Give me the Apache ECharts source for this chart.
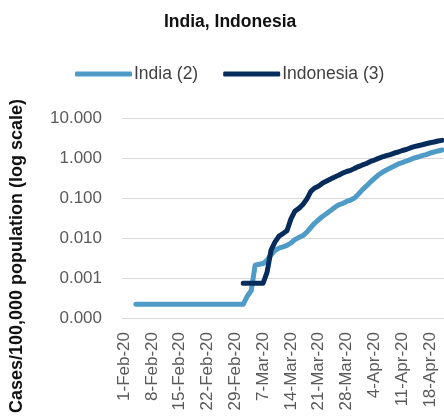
<!DOCTYPE html>
<html>
<head>
<meta charset="utf-8">
<script src="https://cdn.jsdelivr.net/npm/echarts@6/dist/echarts.min.js"></script>
<style>
  html, body { margin: 0; padding: 0; background: #fff; }
  #chart { width: 444px; height: 420px; }
</style>
</head>
<body>
<div id="chart"></div>
<script>
// Daily dates, 1 Feb – 21 Apr 2020
var dates = [
  '1-Feb-20','2-Feb-20','3-Feb-20','4-Feb-20','5-Feb-20','6-Feb-20','7-Feb-20',
  '8-Feb-20','9-Feb-20','10-Feb-20','11-Feb-20','12-Feb-20','13-Feb-20','14-Feb-20',
  '15-Feb-20','16-Feb-20','17-Feb-20','18-Feb-20','19-Feb-20','20-Feb-20','21-Feb-20',
  '22-Feb-20','23-Feb-20','24-Feb-20','25-Feb-20','26-Feb-20','27-Feb-20','28-Feb-20',
  '29-Feb-20','1-Mar-20','2-Mar-20','3-Mar-20','4-Mar-20','5-Mar-20','6-Mar-20',
  '7-Mar-20','8-Mar-20','9-Mar-20','10-Mar-20','11-Mar-20','12-Mar-20','13-Mar-20',
  '14-Mar-20','15-Mar-20','16-Mar-20','17-Mar-20','18-Mar-20','19-Mar-20','20-Mar-20',
  '21-Mar-20','22-Mar-20','23-Mar-20','24-Mar-20','25-Mar-20','26-Mar-20','27-Mar-20',
  '28-Mar-20','29-Mar-20','30-Mar-20','31-Mar-20','1-Apr-20','2-Apr-20','3-Apr-20',
  '4-Apr-20','5-Apr-20','6-Apr-20','7-Apr-20','8-Apr-20','9-Apr-20','10-Apr-20',
  '11-Apr-20','12-Apr-20','13-Apr-20','14-Apr-20','15-Apr-20','16-Apr-20','17-Apr-20',
  '18-Apr-20','19-Apr-20','20-Apr-20','21-Apr-20'
];

// Cumulative cases per 100,000 population
var india = [
  null, null, null,
  0.00022, 0.00022, 0.00022, 0.00022, 0.00022, 0.00022, 0.00022,
  0.00022, 0.00022, 0.00022, 0.00022, 0.00022, 0.00022, 0.00022,
  0.00022, 0.00022, 0.00022, 0.00022, 0.00022, 0.00022, 0.00022,
  0.00022, 0.00022, 0.00022, 0.00022, 0.00022, 0.00022,
  0.00022, 0.00035, 0.00048, 0.0021, 0.0022, 0.0023, 0.0028,
  0.0038, 0.0049, 0.0056, 0.0060, 0.0065, 0.0075, 0.0091,
  0.0103, 0.0115, 0.0141, 0.0183, 0.0237, 0.029, 0.035,
  0.041, 0.049, 0.058, 0.067, 0.073, 0.082, 0.089,
  0.100, 0.126, 0.162, 0.20, 0.25, 0.31, 0.376,
  0.44, 0.50, 0.56, 0.63, 0.71, 0.77, 0.84,
  0.91, 1.00, 1.06, 1.15, 1.22, 1.33, 1.41,
  1.50, 1.58
];

var indonesia = [
  null, null, null, null, null, null, null,
  null, null, null, null, null, null, null,
  null, null, null, null, null, null, null,
  null, null, null, null, null, null, null,
  null, null,
  0.00074, 0.00074, 0.00074, 0.00074, 0.00074, 0.00074, 0.0014,
  0.0050, 0.0080, 0.0112, 0.0129, 0.0152, 0.030, 0.047,
  0.055, 0.069, 0.094, 0.146, 0.178, 0.20, 0.237,
  0.266, 0.30, 0.335, 0.37, 0.42, 0.46, 0.49,
  0.55, 0.61, 0.67, 0.73, 0.82, 0.89, 0.98,
  1.06, 1.14, 1.22, 1.33, 1.41, 1.54, 1.63,
  1.78, 1.92, 2.03, 2.14, 2.27, 2.40, 2.51,
  2.66, 2.76
];

var seriesNames = ['India (2)', 'Indonesia (3)'];
var seriesColors = ['#4f9bc7', '#062c5c'];

var FONT = '"Liberation Sans", Arial, sans-serif';

var chart = echarts.init(document.getElementById('chart'), null, { renderer: 'canvas' });

chart.setOption({
  animation: false,
  backgroundColor: '#ffffff',
  title: {
    text: 'India, Indonesia',
    left: 159,
    top: 8,
    textStyle: { fontFamily: FONT, fontSize: 17.5, fontWeight: 'bold', color: '#111111' }
  },
  legend: {
    data: seriesNames,
    left: 70,
    top: 60,
    icon: 'roundRect',
    itemWidth: 57,
    itemHeight: 5,
    itemGap: 25,
    textStyle: { fontFamily: FONT, fontSize: 17.5, color: '#404040', padding: [0, 0, 0, -3] }
  },
  graphic: [{
    type: 'text',
    x: 17,
    y: 256,
    rotation: Math.PI / 2,
    style: {
      text: 'Cases/100,000 population (log scale)',
      fontFamily: FONT,
      fontSize: 18,
      fontWeight: 'bold',
      fill: '#111111',
      align: 'center',
      verticalAlign: 'middle'
    }
  }],
  grid: { left: 122, right: 0, top: 118, bottom: 102, containLabel: false },
  xAxis: {
    type: 'category',
    data: dates,
    boundaryGap: true,
    axisLine: { show: true, lineStyle: { color: '#d9d9d9', width: 1 } },
    axisTick: { show: false },
    axisLabel: {
      interval: 6,
      rotate: 90,
      margin: 14,
      fontFamily: FONT,
      fontSize: 17,
      color: '#595959'
    }
  },
  yAxis: {
    type: 'log',
    logBase: 10,
    min: 0.0001,
    max: 10,
    axisLine: { show: false },
    axisTick: { show: false },
    splitLine: { show: true, lineStyle: { color: '#d9d9d9', width: 1 } },
    axisLabel: {
      margin: 20,
      fontFamily: FONT,
      fontSize: 17,
      color: '#595959',
      formatter: function (v) { return v.toFixed(3); }
    }
  },
  series: [
    {
      name: seriesNames[0],
      type: 'line',
      data: india,
      showSymbol: false,
      connectNulls: false,
      color: seriesColors[0],
      lineStyle: { width: 5, color: seriesColors[0], cap: 'round', join: 'round' }
    },
    {
      name: seriesNames[1],
      type: 'line',
      data: indonesia,
      showSymbol: false,
      connectNulls: false,
      color: seriesColors[1],
      lineStyle: { width: 5, color: seriesColors[1], cap: 'round', join: 'round' }
    }
  ]
});
</script>
</body>
</html>
